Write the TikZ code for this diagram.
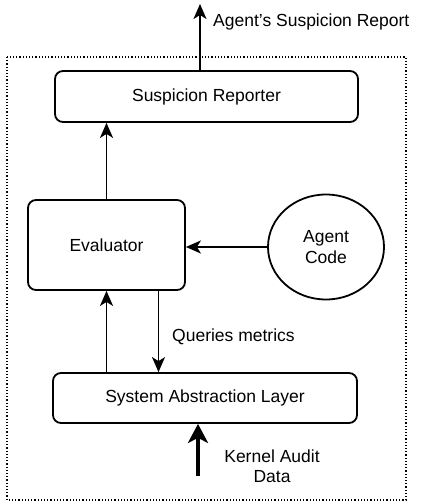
\documentclass[tikz,border=0pt]{standalone}
\usepackage{fontspec}
\setmainfont{Liberation Sans}
\usetikzlibrary{arrows.meta,shapes.geometric}
\begin{document}
\begin{tikzpicture}[x=1pt,y=-1pt,
  every node/.style={font=\fontsize{17.5}{20.5}\selectfont},
  box/.style={draw,line width=1.8pt,rounded corners=8pt,minimum width=#1,inner sep=0pt},
  arr/.style={line width=1.8pt,-{Stealth[length=15pt,width=13pt,inset=4pt]}},
  bigarr/.style={line width=3.4pt,-{Stealth[length=19pt,width=20pt,inset=5pt]}},
  lbl/.style={inner sep=0pt}]
\useasboundingbox (0,0) rectangle (421,502);
\draw[dotted,line width=1.2pt] (7,57) rectangle (406,500);
\node[box=303pt,minimum height=51pt] (rep) at (206.5,96.5) {Suspicion Reporter};
\node[box=157pt,minimum height=90pt] (eval) at (106.5,245) {Evaluator};
\node[draw,ellipse,line width=1.8pt,minimum width=116pt,minimum height=105pt,inner sep=0pt,align=center] (agent) at (326,247) {Agent\\Code};
\node[box=304pt,minimum height=50pt] (sal) at (205,398) {System Abstraction Layer};
\coordinate (top) at (200,4);
\draw[arr] (top |- rep.north) -- (top);
\node[lbl,anchor=west] (rlab) at (213,22) {Agent's Suspicion Report};
\draw[arr] (eval.north) -- (eval.north |- rep.south);
\draw[arr] (agent.west) -- (agent.west -| eval.east);
\draw[arr] (eval.south |- sal.north) -- (eval.south);
\coordinate (q) at ([xshift=52pt]eval.south);
\draw[arr] (q) -- (q |- sal.north);
\node[lbl,anchor=west] (qlab) at (172,337) {Queries metrics};
\coordinate (k) at (198,476);
\draw[bigarr] (k) -- (k |- sal.south);
\node[lbl,align=center] (klab) at (272,466) {Kernel Audit\\Data};
\end{tikzpicture}
\end{document}
